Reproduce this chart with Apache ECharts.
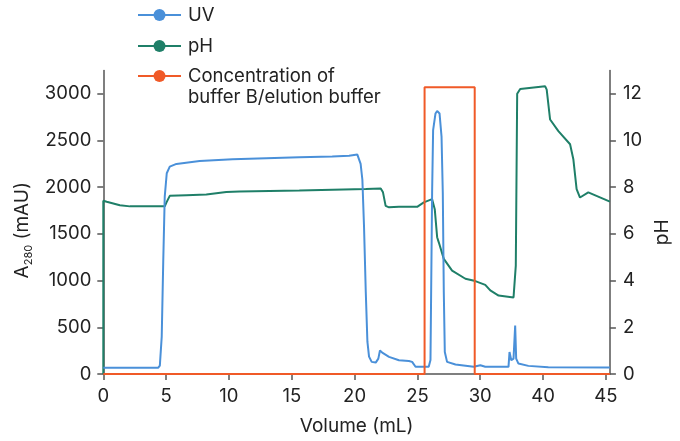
<!DOCTYPE html>
<html>
<head>
<meta charset="utf-8">
<script src="https://cdn.jsdelivr.net/npm/echarts@6/dist/echarts.min.js"></script>
<style>
  html, body { margin: 0; padding: 0; background: #fff; }
  #chart { width: 680px; height: 441px; }
</style>
</head>
<body>
<div id="chart"></div>
<script>
// x values are in axis units: ticks are evenly spaced, labelled 0..30, 40, 45
let tickPos = [0, 5, 10, 15, 20, 25, 30, 35, 40]
let tickLabels = ['0', '5', '10', '15', '20', '25', '30', '40', '45']
let uvTicks = [0, 500, 1000, 1500, 2000, 2500, 3000]
let phTicks = [0, 2, 4, 6, 8, 10, 12]

let uvX = [0, 4.36, 4.5, 4.65, 4.77, 4.89, 5.05, 5.29, 5.82, 7.67, 10.29, 12.96, 15.6, 18.22, 19.56, 20.22,
  20.36, 20.48, 20.62, 20.75, 20.89, 21.02, 21.15, 21.36, 21.68, 21.89, 22.02, 22.2, 22.74, 23.53, 24.32,
  24.58, 24.85, 25.9, 26.04, 26.17, 26.25, 26.44, 26.57, 26.76, 26.92, 27.02, 27.1, 27.18, 27.36, 28.03,
  29.48, 30.01, 30.4, 32.25, 32.33, 32.47, 32.65, 32.78, 32.86, 33.04, 33.83, 35.42, 40.32]
let uvY = [66, 66, 90, 400, 1200, 1900, 2150, 2220, 2250, 2280, 2300, 2311, 2320, 2328, 2338, 2350,
  2340, 2250, 2080, 1583, 878, 346, 186, 130, 122, 165, 253, 229, 183, 147, 140,
  130, 77, 77, 150, 1941, 2612, 2790, 2817, 2790, 2541, 1941, 875, 236, 130, 101,
  77, 94, 77, 77, 236, 147, 165, 519, 165, 112, 87, 72, 69]

let phX = [0, 0, 0.27, 1.32, 2.12, 4.89, 5.03, 5.29, 6.61, 8.2, 9.79, 10.84, 15.6, 20.89, 22.08, 22.26,
  22.47, 22.74, 23.53, 24.98, 25.51, 26.17, 26.38, 26.57, 26.7, 27.1, 27.76, 28.82, 29.61, 30.4, 30.8,
  31.46, 32.65, 32.83, 32.94, 33.18, 35.16, 35.29, 35.56, 36.22, 37.15, 37.41, 37.67, 37.94, 38.6, 39.39, 40.32]
let phY = [0, 7.42, 7.38, 7.23, 7.18, 7.18, 7.35, 7.63, 7.66, 7.69, 7.8, 7.82, 7.86, 7.92, 7.95, 7.78,
  7.2, 7.14, 7.16, 7.16, 7.35, 7.49, 7.06, 5.86, 5.64, 4.93, 4.43, 4.08, 3.98, 3.82, 3.58,
  3.36, 3.28, 4.64, 12.0, 12.21, 12.33, 12.18, 10.9, 10.4, 9.84, 9.2, 7.92, 7.56, 7.78, 7.6, 7.38]

let concX = [0, 25.57, 25.57, 29.56, 29.56, 40.32]
let concY = [0, 0, 3070, 3070, 0, 0]

let concName = 'Concentration of buffer B/elution buffer'

function pairs(xs, ys) {
  return xs.map((x, i) => [x, ys[i]])
}

let font = 'Inter'
let fs = 18.5
let axisColor = '#555'
let textColor = '#222'

let chart = echarts.init(document.getElementById('chart'))

let option = {
  animation: false,
  textStyle: { fontFamily: font, color: textColor },
  grid: { left: 103.3, right: 68.3, top: 70.5, bottom: 65.5 },
  legend: [
    {
      data: ['UV', 'pH'],
      orient: 'vertical',
      left: 137,
      top: 5,
      padding: 0,
      itemWidth: 43,
      itemHeight: 15,
      itemGap: 11,
      selectedMode: false,
      textStyle: { fontFamily: font, fontSize: fs, color: textColor, lineHeight: 20, padding: [0, 0, 0, 2] }
    },
    {
      data: [concName],
      orient: 'vertical',
      left: 137,
      top: 44.5,
      padding: 0,
      itemWidth: 43,
      itemHeight: 15,
      selectedMode: false,
      // blank first line keeps the icon level with "Concentration of"
      formatter: () => ' \nConcentration of\nbuffer B/elution buffer',
      textStyle: { fontFamily: font, fontSize: fs, color: textColor, lineHeight: 21, padding: [0, 0, 0, 2] }
    }
  ],
  xAxis: {
    type: 'value',
    min: 0,
    max: 40.32,
    name: 'Volume (mL)',
    nameLocation: 'middle',
    nameGap: 43,
    nameTextStyle: { fontFamily: font, fontSize: 19, color: textColor },
    splitLine: { show: false },
    axisLine: { show: true, lineStyle: { color: axisColor, width: 1.5 } },
    axisTick: { show: true, length: 6, customValues: tickPos, lineStyle: { color: axisColor, width: 1.5 } },
    axisLabel: {
      customValues: tickPos,
      margin: 13,
      fontFamily: font,
      fontSize: fs,
      color: textColor,
      formatter: v => tickLabels[Math.round(v / 5)]
    }
  },
  yAxis: [
    {
      type: 'value',
      min: 0,
      max: 3250,
      name: '{m|A}{sub|280}{m| (mAU)}',
      nameLocation: 'middle',
      nameRotate: 90,
      nameGap: 62,
      nameTextStyle: {
        padding: [0, 16, 0, 0],
        rich: {
          m: { fontFamily: font, fontSize: 19, color: textColor },
          sub: { fontFamily: font, fontSize: 11, color: textColor, padding: [12, 0, 0, 0] }
        }
      },
      splitLine: { show: false },
      axisLine: { show: true, lineStyle: { color: axisColor, width: 1.5 } },
      axisTick: { show: true, length: 6, customValues: uvTicks, lineStyle: { color: axisColor, width: 1.5 } },
      axisLabel: {
        customValues: uvTicks, margin: 12, fontFamily: font, fontSize: fs, color: textColor,
        formatter: v => String(v)
      }
    },
    {
      type: 'value',
      min: 0,
      max: 13,
      position: 'right',
      name: 'pH',
      nameLocation: 'middle',
      nameRotate: 90,
      nameGap: 28,
      nameTextStyle: { fontFamily: font, fontSize: 19, color: textColor, padding: [0, 20, 0, 0] },
      splitLine: { show: false },
      axisLine: { show: true, lineStyle: { color: axisColor, width: 1.5 } },
      axisTick: { show: true, length: 6, customValues: phTicks, lineStyle: { color: axisColor, width: 1.5 } },
      axisLabel: { customValues: phTicks, margin: 13, fontFamily: font, fontSize: fs, color: textColor }
    }
  ],
  series: [
    {
      name: 'UV',
      type: 'line',
      yAxisIndex: 0,
      data: pairs(uvX, uvY),
      symbol: 'circle',
      showSymbol: false,
      color: '#4a90d9',
      lineStyle: { width: 2, color: '#4a90d9' },
      z: 3
    },
    {
      name: 'pH',
      type: 'line',
      yAxisIndex: 1,
      data: pairs(phX, phY),
      symbol: 'circle',
      showSymbol: false,
      color: '#1f7f68',
      lineStyle: { width: 2, color: '#1f7f68' },
      z: 2
    },
    {
      name: concName,
      type: 'line',
      yAxisIndex: 0,
      data: pairs(concX, concY),
      symbol: 'circle',
      showSymbol: false,
      color: '#f05a28',
      lineStyle: { width: 2, color: '#f05a28' },
      z: 4
    }
  ]
}

chart.setOption(option)
</script>
</body>
</html>
